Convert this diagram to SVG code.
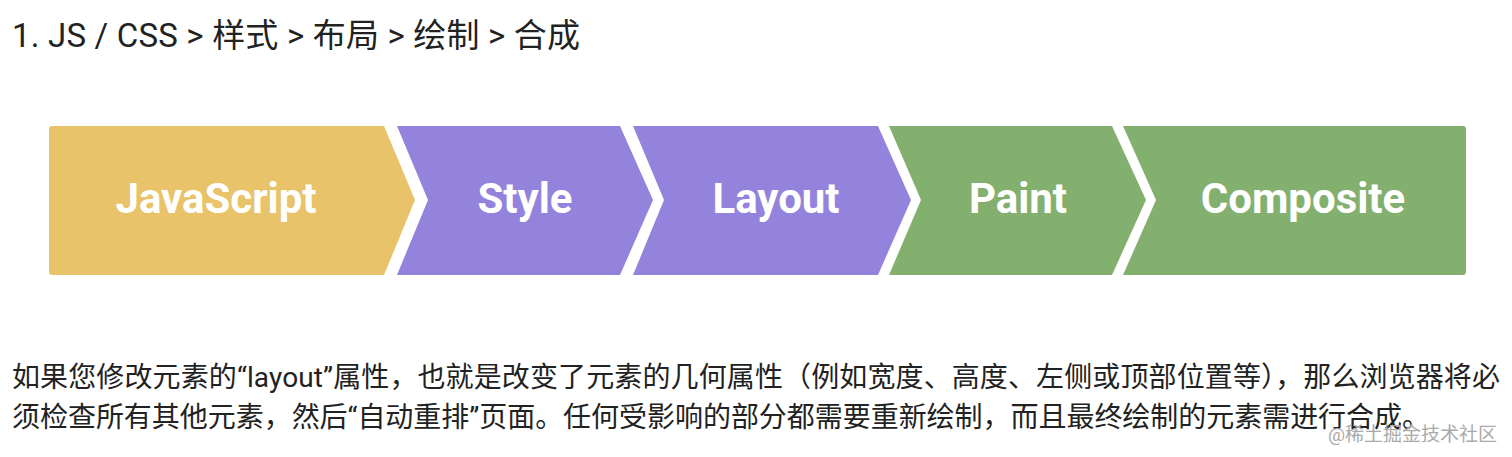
<svg xmlns="http://www.w3.org/2000/svg" width="1512" height="457" viewBox="0 0 1512 457">
<style>
.t{font-family:Roboto,"Noto Sans CJK SC",sans-serif;fill:#222}
.lbl{font-family:Roboto,sans-serif;font-weight:bold;font-size:42px;fill:#fff;text-anchor:middle}
</style>
<rect width="1512" height="457" fill="#fff"/>
<text class="t" x="12" y="47" font-size="33" textLength="568">1. JS / CSS &gt; 样式 &gt; 布局 &gt; 绘制 &gt; 合成</text>
<g id="javascript"><path d="M52 126 H384 L415 200 L384 275 H52 Q49 275 49 272 V129 Q49 126 52 126Z" fill="#E8C36A"/><text class="lbl" x="216" y="213">JavaScript</text></g>
<g id="style"><path d="M397 126 H620 L653 200 L620 275 H397 L428 200Z" fill="#9383DD"/><text class="lbl" x="525" y="213">Style</text></g>
<g id="layout"><path d="M633 126 H878 L911 200 L878 275 H633 L664 200Z" fill="#9383DD"/><text class="lbl" x="776" y="213">Layout</text></g>
<g id="paint"><path d="M889 126 H1112 L1146 200 L1112 275 H889 L921 200Z" fill="#84B06F"/><text class="lbl" x="1018" y="213">Paint</text></g>
<g id="composite"><path d="M1123 126 H1463 Q1466 126 1466 129 V272 Q1466 275 1463 275 H1123 L1156 200Z" fill="#84B06F"/><text class="lbl" x="1303" y="213">Composite</text></g>
<g id="connectors"/>
<text class="t" x="12" y="387" font-size="28" textLength="1488">如果您修改元素的“layout”属性，也就是改变了元素的几何属性（例如宽度、高度、左侧或顶部位置等），那么浏览器将必</text>
<text class="t" x="12" y="427" font-size="28" textLength="1418">须检查所有其他元素，然后“自动重排”页面。任何受影响的部分都需要重新绘制，而且最终绘制的元素需进行合成。</text>
<text x="1497" y="441" font-size="19" text-anchor="end" fill="#aaa" font-family="Roboto,'Noto Sans CJK SC',sans-serif">@稀土掘金技术社区</text>
</svg>
